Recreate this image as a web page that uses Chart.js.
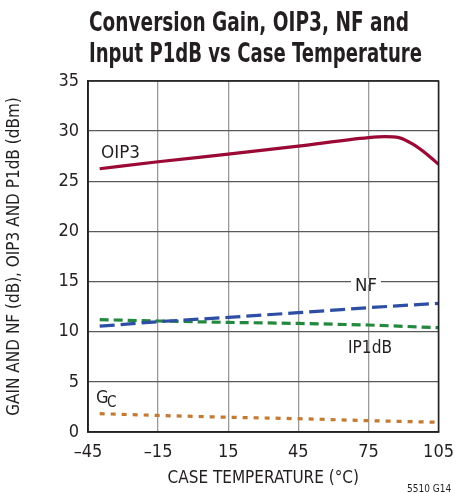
<!DOCTYPE html>
<html>
<head>
<meta charset="utf-8">
<script src="https://cdn.jsdelivr.net/npm/chart.js@4/dist/chart.umd.min.js"></script>
<style>
  html, body { margin: 0; padding: 0; background: #fff; }
  #wrap { width: 464px; height: 493px; position: relative; }
</style>
</head>
<body>
<div id="wrap"><canvas id="mycanvas" width="464" height="493"></canvas></div>
<script>
// values
var xTicks = [-45, -15, 15, 45, 75, 105];
var yTicks = [0, 5, 10, 15, 20, 25, 30, 35];

var oip3Temp = [-40, -15, 15, 45, 75, 82, 88, 94, 100, 105];
var oip3 = [26.25, 26.95, 27.7, 28.5, 29.35, 29.45, 29.35, 28.7, 27.7, 26.7];

var lineTemp = [-40, -15, 15, 45, 75, 105];
var nf = [10.55, 11.0, 11.43, 11.9, 12.4, 12.83];
var ip1db = [11.2, 11.07, 10.93, 10.83, 10.67, 10.4];
var gain = [1.83, 1.65, 1.47, 1.33, 1.13, 0.97];

var FONT = "'DejaVu Sans Condensed', 'Liberation Sans Narrow', sans-serif";

function pts(xs, ys) {
  var out = [];
  for (var i in xs) out.push({ x: xs[i], y: ys[i] });
  return out;
}

function dash(s) { return String(s).replace('-', '\u2013'); }

// draw text squeezed to a given width (the original uses a narrow font)
function squeezed(ctx, txt, x, y, w) {
  var s = w / ctx.measureText(txt).width;
  ctx.save();
  ctx.translate(x, y);
  ctx.scale(s, 1);
  ctx.fillText(txt, 0, 0);
  ctx.restore();
}

var textPlugin = {
  id: 'texts',
  beforeDatasetsDraw: function(chart) {
    var ctx = chart.ctx, y = chart.scales.y;
    // white box behind NF label (cuts the gridline)
    ctx.save();
    ctx.fillStyle = '#fff';
    ctx.fillRect(351, y.getPixelForValue(15) - 3, 30, 6);
    ctx.restore();
  },
  afterDatasetsDraw: function(chart) {
    var a = chart.chartArea, g = chart.ctx;
    g.save();
    g.strokeStyle = '#222';
    g.lineWidth = 1.6;
    g.strokeRect(a.left, a.top, a.right - a.left, a.bottom - a.top);
    g.restore();
  },
  afterDraw: function(chart) {
    var ctx = chart.ctx, x = chart.scales.x, y = chart.scales.y;
    ctx.save();
    ctx.fillStyle = '#231f20';
    ctx.textBaseline = 'alphabetic';
    ctx.textAlign = 'left';
    ctx.font = 'bold 26px ' + FONT;
    squeezed(ctx, 'Conversion Gain, OIP3, NF and', 89, 31, 320);
    squeezed(ctx, 'Input P1dB vs Case Temperature', 89, 62, 333);

    ctx.font = '18px ' + FONT;
    squeezed(ctx, 'OIP3', 101, y.getPixelForValue(27.3), 39);
    squeezed(ctx, 'NF', 355, y.getPixelForValue(14.05), 22);
    squeezed(ctx, 'IP1dB', 348, y.getPixelForValue(7.9), 44);
    ctx.fillText('G', 96, y.getPixelForValue(2.85));
    ctx.font = '15px ' + FONT;
    ctx.fillText('C', 107, y.getPixelForValue(2.45));

    ctx.font = '10px ' + FONT;
    ctx.fillText('5510 G14', 407, 492);
    ctx.restore();
  }
};

var ctx = document.getElementById('mycanvas');

var chartdata = {
  datasets: [
    {
      label: 'OIP3',
      data: pts(oip3Temp, oip3),
      borderColor: '#9a0a34',
      borderWidth: 3.2,
      cubicInterpolationMode: 'monotone'
    },
    {
      label: 'NF',
      data: pts(lineTemp, nf),
      borderColor: '#2d4ea3',
      borderWidth: 3.2,
      borderDash: [15, 6]
    },
    {
      label: 'IP1dB',
      data: pts(lineTemp, ip1db),
      borderColor: '#24893f',
      borderWidth: 3.2,
      borderDash: [9, 5]
    },
    {
      label: 'GC',
      data: pts(lineTemp, gain),
      borderColor: '#c27a34',
      borderWidth: 3.2,
      borderDash: [5, 6]
    }
  ]
};

var chart = new Chart(ctx, {
  type: 'line',
  data: chartdata,
  plugins: [textPlugin],
  options: {
    responsive: false,
    animation: false,
    events: [],
    layout: { padding: { top: 81, right: 22, left: 0, bottom: 0 } },
    elements: { point: { radius: 0 } },
    plugins: { legend: { display: false }, tooltip: { enabled: false } },
    scales: {
      x: {
        type: 'linear',
        min: -45,
        max: 105,
        afterBuildTicks: function(scale) { scale.ticks = xTicks.map(function(v){ return { value: v }; }); },
        afterFit: function(scale) { scale.height = 61; },
        grid: { color: '#9a9a9a', lineWidth: 1.3, drawTicks: false },
        border: { color: '#222', width: 1.6 },
        ticks: {
          color: '#231f20',
          padding: 10,
          font: { family: FONT, size: 18 },
          callback: function(v) { return dash(v); }
        },
        title: {
          display: true,
          text: 'CASE TEMPERATURE (\u00B0C)',
          color: '#231f20',
          font: { family: FONT, size: 17 },
          padding: { top: 3 }
        }
      },
      y: {
        min: 0,
        max: 35,
        afterBuildTicks: function(scale) { scale.ticks = yTicks.map(function(v){ return { value: v }; }); },
        afterFit: function(scale) { scale.width = 88; },
        grid: { color: '#5a5a5a', lineWidth: 1.3, drawTicks: false },
        border: { color: '#222', width: 1.6 },
        ticks: {
          color: '#231f20',
          padding: 9,
          font: { family: FONT, size: 18 }
        },
        title: {
          display: true,
          text: 'GAIN AND NF (dB), OIP3 AND P1dB (dBm)',
          color: '#231f20',
          font: { family: FONT, size: 17 },
          padding: { bottom: 6 }
        }
      }
    }
  }
});
</script>
</body>
</html>
